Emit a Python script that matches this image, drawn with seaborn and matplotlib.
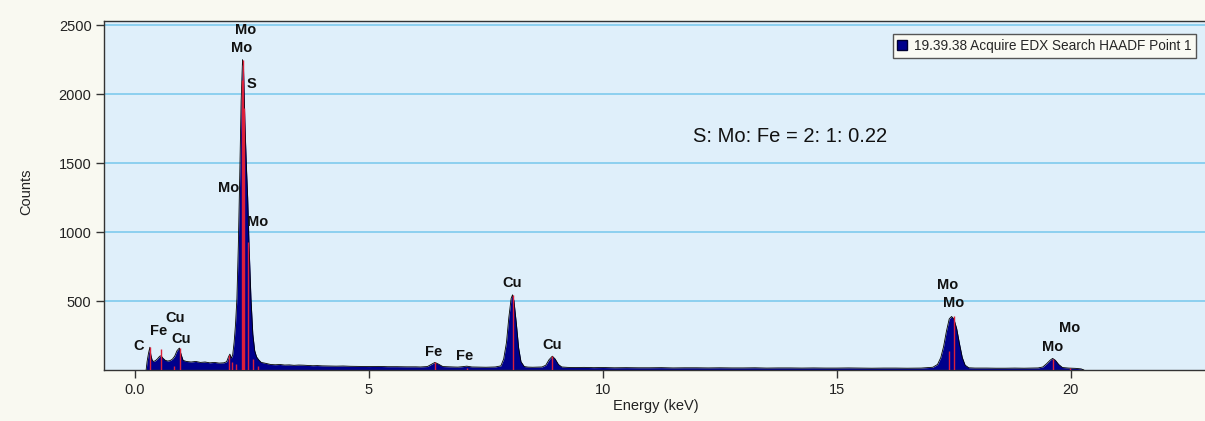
import matplotlib
matplotlib.use("Agg")
import matplotlib.pyplot as plt
import seaborn as sns
import pandas as pd
from matplotlib.patches import Patch

# ---------------- data ----------------
# EDX spectrum: energy (keV) and counts
energy_kev = [
    0.24, 0.26, 0.29, 0.32, 0.34, 0.37, 0.40, 0.44, 0.48, 0.53, 0.56, 0.60,
    0.65, 0.70, 0.75, 0.80, 0.85, 0.90, 0.95, 0.99, 1.03, 1.10, 1.20, 1.30,
    1.40, 1.50, 1.60, 1.70, 1.80, 1.90, 1.96, 2.00, 2.03, 2.06, 2.09, 2.12,
    2.15, 2.18, 2.21, 2.24, 2.27, 2.30, 2.32, 2.35, 2.38, 2.41, 2.44, 2.48,
    2.52, 2.56, 2.60, 2.65, 2.70, 2.80, 2.90, 3.00, 3.10, 3.20, 3.30, 3.40,
    3.50, 3.60, 3.70, 3.80, 3.90, 4.00, 4.15, 4.30, 4.45, 4.60, 4.80, 5.00,
    5.20, 5.40, 5.60, 5.80, 6.00, 6.10, 6.25, 6.33, 6.41, 6.49, 6.58, 6.70,
    6.80, 6.90, 7.00, 7.09, 7.20, 7.35, 7.50, 7.60, 7.70, 7.82, 7.88, 7.94,
    7.99, 8.04, 8.07, 8.10, 8.15, 8.20, 8.25, 8.32, 8.40, 8.50, 8.60, 8.70,
    8.78, 8.85, 8.92, 8.98, 9.05, 9.12, 9.25, 9.40, 9.60, 9.80, 10.00, 10.25,
    10.50, 10.75, 11.00, 11.25, 11.50, 11.75, 12.00, 12.25, 12.50, 12.75,
    13.00, 13.25, 13.50, 13.75, 14.00, 14.25, 14.50, 14.75, 15.00, 15.25,
    15.50, 15.75, 16.00, 16.25, 16.50, 16.80, 17.05, 17.15, 17.22, 17.28,
    17.34, 17.40, 17.45, 17.50, 17.56, 17.62, 17.68, 17.74, 17.82, 17.95,
    18.20, 18.40, 18.60, 18.80, 19.00, 19.15, 19.30, 19.40, 19.48, 19.56,
    19.61, 19.67, 19.74, 19.82, 19.95, 20.10, 20.22, 20.28,
]
counts = [
    0, 60, 120, 165, 110, 70, 62, 68, 80, 100, 103, 85,
    70, 65, 68, 78, 100, 140, 159, 110, 70, 62, 58, 62,
    55, 58, 52, 55, 50, 52, 60, 95, 115, 85, 110, 200,
    330, 520, 900, 1400, 1950, 2250, 2200, 1800, 1500, 1250, 900, 520,
    260, 140, 95, 72, 55, 48, 40, 38, 40, 36, 37, 34,
    36, 35, 33, 31, 32, 30, 29, 28, 29, 27, 26, 25,
    26, 24, 24, 23, 23, 22, 25, 40, 55, 42, 25, 23,
    22, 21, 24, 28, 22, 21, 20, 21, 22, 30, 80, 200,
    380, 520, 545, 500, 340, 160, 60, 25, 21, 20, 21, 22,
    35, 75, 100, 80, 40, 22, 19, 18, 19, 17, 18, 16,
    17, 16, 16, 17, 15, 16, 16, 15, 16, 15,
    15, 16, 14, 15, 15, 14, 15, 14, 14, 15,
    14, 13, 14, 14, 13, 14, 20, 40, 90, 170,
    280, 370, 388, 370, 300, 190, 90, 35, 16, 14,
    14, 13, 13, 14, 13, 14, 15, 22, 45, 72,
    84, 70, 40, 18, 14, 12, 8, 0,
]

# KLM marker lines: energy (keV) and height (counts)
marker_kev = [0.32, 0.56, 0.84, 0.96, 2.02, 2.08, 2.16, 2.28, 2.31, 2.34,
              2.41, 2.53, 2.64, 6.41, 7.09, 8.07, 8.92, 17.39, 17.51,
              19.61, 19.98]
marker_counts = [165, 150, 30, 160, 110, 60, 45, 2100, 2250, 1900,
                 930, 80, 30, 55, 12, 545, 100, 140, 390,
                 80, 15]

# Element labels: text, energy, counts
peak_labels = ["C", "Fe", "Cu", "Cu", "Mo", "Mo", "S", "Mo", "Mo",
               "Fe", "Fe", "Cu", "Cu", "Mo", "Mo", "Mo", "Mo"]
label_kev = [0.09, 0.51, 0.85, 0.98, 2.37, 2.29, 2.50, 2.01, 2.63,
             6.39, 7.05, 8.06, 8.91, 17.37, 17.50, 19.98, 19.62]
label_counts = [173, 282, 375, 224, 2462, 2332, 2072, 1321, 1076,
                130, 103, 628, 180, 614, 484, 303, 166]

x_ticks = [0, 5, 10, 15, 20]
x_tick_labels = ["0.0", "5", "10", "15", "20"]
y_ticks = [500, 1000, 1500, 2000, 2500]

series_name = "19.39.38 Acquire EDX Search HAADF Point 1"
ratio_text = "S: Mo: Fe = 2: 1: 0.22"

# ---------------- style ----------------
sns.set_theme(style="white")
plt.rcParams["font.family"] = ["Liberation Sans", "DejaVu Sans"]

fig_bg = "#f9f9f1"
axes_bg = "#dfeffa"
grid_col = "#86cdee"
fill_col = "#00008c"
marker_col = "#dc1f3a"

fig = plt.figure(figsize=(12.05, 4.21), dpi=100, facecolor=fig_bg)
ax = fig.add_axes([104 / 1205, 1 - 370 / 421, 1104 / 1205, 349 / 421])
ax.set_facecolor(axes_bg)

df = pd.DataFrame({"Energy (keV)": energy_kev, "Counts": counts})

# horizontal grid
for yv in y_ticks:
    ax.axhline(yv, color=grid_col, lw=1.3, zorder=0.5)

# spectrum
ax.fill_between(df["Energy (keV)"], df["Counts"], 0, color=fill_col,
                lw=0, zorder=2)
sns.lineplot(data=df, x="Energy (keV)", y="Counts", color="black",
             lw=0.6, sort=False, estimator=None, ax=ax, zorder=3)

# marker lines
ax.vlines(marker_kev, 0, marker_counts, color=marker_col, lw=1.0, zorder=4)

# element labels
for t, xe, yc in zip(peak_labels, label_kev, label_counts):
    ax.text(xe, yc, t, ha="center", va="center", fontsize=10.5,
            fontweight="bold", color="#111111", zorder=5)

# composition note
ax.text(14.0, 1690, ratio_text, ha="center", va="center",
        fontsize=14.5, color="#111111", zorder=5)

# axes
ax.set_xlim(-0.66, 22.93)
ax.set_ylim(0, 2530)
ax.set_xticks(x_ticks)
ax.set_xticklabels(x_tick_labels)
ax.set_yticks(y_ticks)
ax.tick_params(axis="both", which="major", direction="out", length=6,
               width=1, color="#333333", labelsize=10.5, labelcolor="#222222",
               bottom=True, left=True, pad=3)
ax.set_xlabel("Energy (keV)", fontsize=10.5, color="#222222", labelpad=2)
ax.set_ylabel("Counts", fontsize=10.5, color="#222222")
ax.yaxis.set_label_coords(-0.0645, 0.51)

for side in ["left", "bottom", "top", "right"]:
    ax.spines[side].set_visible(True)
    ax.spines[side].set_color("#333333")
    ax.spines[side].set_linewidth(1.0)
ax.grid(False)

handle = Patch(facecolor=fill_col, edgecolor="#000033", label=series_name)
leg = ax.legend(handles=[handle], loc="upper right",
                bbox_to_anchor=(1196 / 1205, 1 - 34 / 421),
                bbox_transform=fig.transFigure, borderaxespad=0,
                fontsize=9.8, frameon=True, fancybox=False,
                handlelength=0.7, handleheight=0.7, handletextpad=0.5,
                borderpad=0.35)
leg.get_frame().set_facecolor("#fafaf3")
leg.get_frame().set_edgecolor("#555555")
leg.get_frame().set_linewidth(1.0)
leg.get_frame().set_alpha(1)

fig.savefig("out.png", dpi=100, facecolor=fig_bg)
